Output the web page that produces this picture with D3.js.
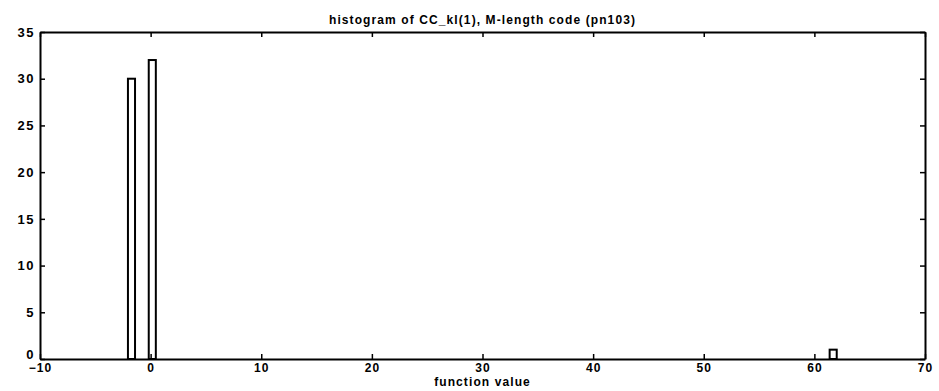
<!DOCTYPE html>
<html>
<head>
<meta charset="utf-8">
<script src="https://cdn.jsdelivr.net/npm/d3@7"></script>
<style>
  html, body { margin: 0; padding: 0; background: #fff; }
  svg text { font-family: "Liberation Sans", Arial, Helvetica, sans-serif; font-weight: bold; fill: #000; }
</style>
</head>
<body>
<svg id="chart" width="939" height="391"></svg>
<script>
// Histogram bins (centres) and their counts
const binCenters = [-1.73, 0.15, 61.7];
const binCounts = [30, 32, 1];
const binWidth = 0.64;

const xTicks = [-10, 0, 10, 20, 30, 40, 50, 60, 70];
const yTicks = [0, 5, 10, 15, 20, 25, 30, 35];

const titleText = "histogram of CC_kl(1), M-length code (pn103)";
const xLabelText = "function value";

const margin = { left: 40, right: 14, top: 32, bottom: 32 };
const W = 939, H = 391;
const svg = d3.select("#chart");

const x = d3.scaleLinear().domain([-10, 70]).range([margin.left, W - margin.right]);
const y = d3.scaleLinear().domain([0, 35]).range([H - margin.bottom, margin.top]);

const tickLen = 5;

// bars: outlined rectangles
svg.append("g").selectAll("rect")
  .data(binCenters.map((c, i) => ({ c, n: binCounts[i] })))
  .join("rect")
  .attr("x", d => x(d.c - binWidth / 2))
  .attr("y", d => y(d.n))
  .attr("width", d => x(d.c + binWidth / 2) - x(d.c - binWidth / 2))
  .attr("height", d => y(0) - y(d.n))
  .attr("fill", "#fff")
  .attr("stroke", "#000")
  .attr("stroke-width", 2);

// axes: bottom/left with labels, top/right mirrored ticks, all pointing inward
const gBottom = svg.append("g").attr("transform", `translate(0,${y(0)})`)
  .call(d3.axisBottom(x).tickValues(xTicks).tickSizeInner(-tickLen).tickSizeOuter(0).tickPadding(4));
const gTop = svg.append("g").attr("transform", `translate(0,${y(35)})`)
  .call(d3.axisTop(x).tickValues(xTicks).tickSizeInner(-tickLen).tickSizeOuter(0).tickFormat(""));
const gLeft = svg.append("g").attr("transform", `translate(${x(-10)},0)`)
  .call(d3.axisLeft(y).tickValues(yTicks).tickSizeInner(-tickLen).tickSizeOuter(0).tickPadding(6));
const gRight = svg.append("g").attr("transform", `translate(${x(70)},0)`)
  .call(d3.axisRight(y).tickValues(yTicks).tickSizeInner(-tickLen).tickSizeOuter(0).tickFormat(""));

[gBottom, gTop, gLeft, gRight].forEach(g => {
  g.select(".domain").attr("stroke", "#000").attr("stroke-width", 2);
  g.selectAll(".tick line").attr("stroke", "#000").attr("stroke-width", 1.5);
  g.selectAll("text").attr("font-size", 12).attr("font-family", null).attr("letter-spacing", 1);
});

// y-axis labels sit a little right of the tick ends; the 0 label rides just above the axis
gLeft.selectAll("text").attr("dx", 1).attr("font-size", 13).attr("letter-spacing", 1.5);
gLeft.selectAll(".tick").filter(d => d === 0).select("text").attr("dy", "-0.05em");

// title and x label
svg.append("text")
  .attr("x", (x(-10) + x(70)) / 2)
  .attr("y", 24)
  .attr("text-anchor", "middle")
  .attr("font-size", 12)
  .attr("letter-spacing", 1.1)
  .text(titleText);

svg.append("text")
  .attr("x", (x(-10) + x(70)) / 2)
  .attr("y", 386)
  .attr("text-anchor", "middle")
  .attr("font-size", 12)
  .attr("letter-spacing", 1.1)
  .text(xLabelText);
</script>
</body>
</html>
